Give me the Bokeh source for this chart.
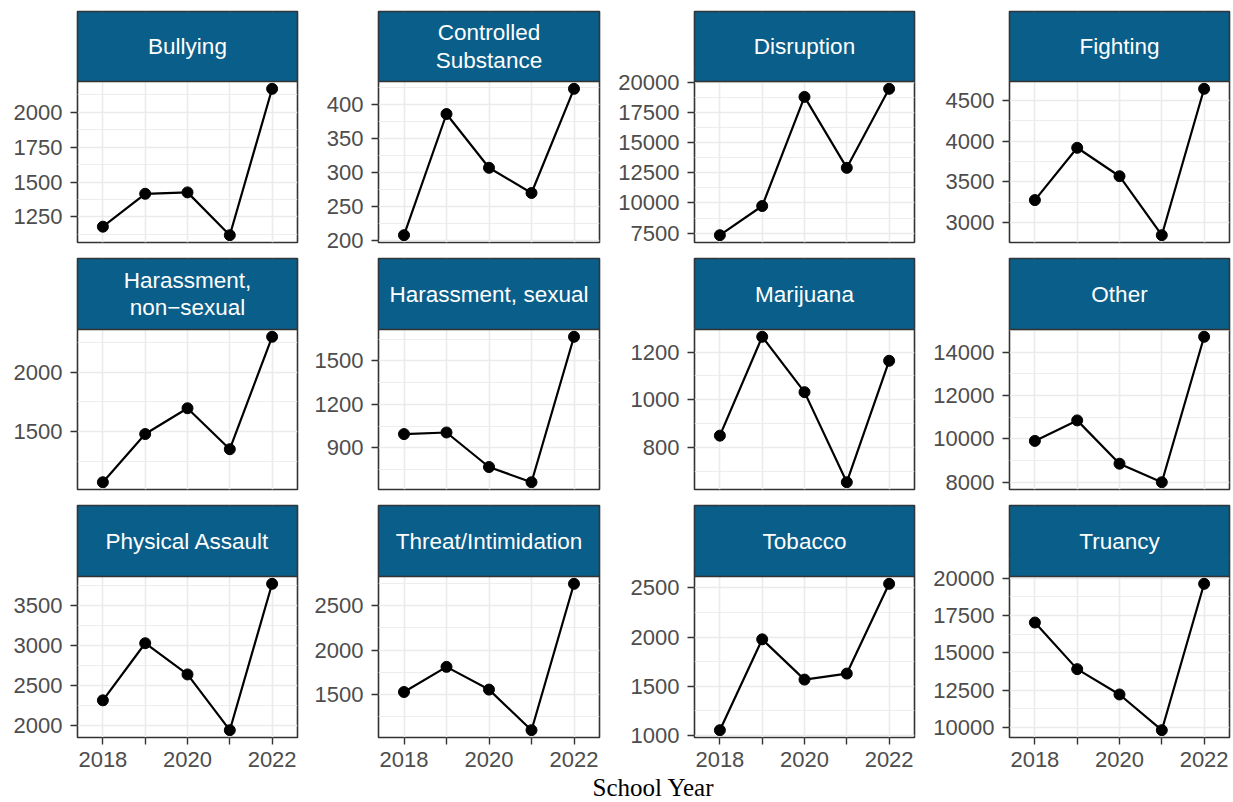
from bokeh.plotting import figure
from bokeh.layouts import column, row
from bokeh.models import Range1d, FixedTicker
from bokeh.core.properties import value
from bokeh.embed import file_html
from bokeh.resources import INLINE

# School years on the x axis; odd years carry a tick but no label
years = [2018, 2019, 2020, 2021, 2022]
x_tick_labels = ["2018", "", "2020", "", "2022"]

# Incident counts per category, one value per school year
bullying = [1180, 1416, 1426, 1119, 2169]
controlled_substance = [208, 386, 307, 270, 423]
disruption = [7335, 9752, 18787, 12912, 19455]
fighting = [3277, 3919, 3570, 2846, 4643]
harassment_non_sexual = [1072, 1478, 1695, 1350, 2297]
harassment_sexual = [995, 1006, 768, 663, 1666]
marijuana = [849, 1265, 1032, 653, 1164]
other = [9908, 10856, 8856, 8000, 14718]
physical_assault = [2312, 3029, 2637, 1937, 3775]
threat_intimidation = [1529, 1812, 1556, 1099, 2747]
tobacco = [1054, 1977, 1568, 1629, 2541]
truancy = [17032, 13910, 12212, 9820, 19626]

# Y-axis breaks for each facet (free y scales)
bullying_breaks = [1250, 1500, 1750, 2000]
controlled_substance_breaks = [200, 250, 300, 350, 400]
disruption_breaks = [7500, 10000, 12500, 15000, 17500, 20000]
fighting_breaks = [3000, 3500, 4000, 4500]
harassment_non_sexual_breaks = [1500, 2000]
harassment_sexual_breaks = [900, 1200, 1500]
marijuana_breaks = [800, 1000, 1200]
other_breaks = [8000, 10000, 12000, 14000]
physical_assault_breaks = [2000, 2500, 3000, 3500]
threat_intimidation_breaks = [1500, 2000, 2500]
tobacco_breaks = [1000, 1500, 2000, 2500]
truancy_breaks = [10000, 12500, 15000, 17500, 20000]

categories = [
    "Bullying", "Controlled\nSubstance", "Disruption", "Fighting",
    "Harassment,\nnon\u2212sexual", "Harassment, sexual", "Marijuana", "Other",
    "Physical Assault", "Threat/Intimidation", "Tobacco", "Truancy",
]
series = [
    bullying, controlled_substance, disruption, fighting,
    harassment_non_sexual, harassment_sexual, marijuana, other,
    physical_assault, threat_intimidation, tobacco, truancy,
]
breaks = [
    bullying_breaks, controlled_substance_breaks, disruption_breaks, fighting_breaks,
    harassment_non_sexual_breaks, harassment_sexual_breaks, marijuana_breaks, other_breaks,
    physical_assault_breaks, threat_intimidation_breaks, tobacco_breaks, truancy_breaks,
]

# ---- styling / geometry ----
FONT = "Liberation Sans"
STRIP_FILL = "#0A5E8A"
BORDER = "#333333"
GRID = "#EBEBEB"
TICK_TEXT = "#4D4D4D"
TICK_SIZE = "22px"
STRIP_SIZE = "22.5px"

col_left = [77, 73, 79, 84]
col_frame = [220, 221, 220, 220]
col_right = [8, 16, 11, 4]
row_top = [11, 4, 4]
strip_h = [70, 71, 71]
panel_h = [161, 160, 161]
row_bottom = [12, 12, 34]

x_lo, x_hi = years[0] - 0.6, years[-1] + 0.6


def make_panel(label, vals, brk, c, r, show_x):
    lo, hi = min(vals), max(vals)
    pad = (hi - lo) * 0.05
    y0, y1 = lo - pad, hi + pad
    per_px = (y1 - y0) / panel_h[r]
    y_top = y1 + strip_h[r] * per_px  # room for the facet strip on top

    p = figure(
        frame_width=col_frame[c], frame_height=panel_h[r] + strip_h[r],
        min_border_left=col_left[c], min_border_right=col_right[c],
        min_border_top=row_top[r], min_border_bottom=row_bottom[r],
        x_range=Range1d(x_lo, x_hi), y_range=Range1d(y0, y_top),
        x_axis_location="below" if show_x else None,
        toolbar_location=None, output_backend="svg",
    )
    step = brk[1] - brk[0]
    minors = [b - step / 2 for b in brk] + [brk[-1] + step / 2]

    p.yaxis.ticker = FixedTicker(ticks=brk, minor_ticks=minors)
    p.yaxis.major_label_overrides = {b: str(b) for b in brk}
    p.xgrid.ticker = FixedTicker(ticks=years)
    p.xgrid.grid_line_color = GRID
    p.xgrid.grid_line_width = 1.6
    p.ygrid.grid_line_color = GRID
    p.ygrid.grid_line_width = 1.6
    p.ygrid.minor_grid_line_color = GRID
    p.ygrid.minor_grid_line_width = 0.9

    axes = list(p.yaxis) + (list(p.xaxis) if show_x else [])
    for ax in axes:
        ax.axis_line_color = None
        ax.major_tick_line_color = BORDER
        ax.major_tick_line_width = 1.4
        ax.major_tick_out = 7
        ax.major_tick_in = 0
        ax.minor_tick_line_color = None
        ax.major_label_text_font = FONT
        ax.major_label_text_font_size = TICK_SIZE
        ax.major_label_text_color = TICK_TEXT
        ax.major_label_standoff = 8
    if show_x:
        p.xaxis.ticker = FixedTicker(ticks=years)
        p.xaxis.major_label_overrides = dict(zip(years, x_tick_labels))
        p.xaxis.major_label_standoff = 7

    p.outline_line_color = BORDER
    p.outline_line_width = 1.6
    p.background_fill_color = "white"

    p.line(years, vals, line_color="black", line_width=2.2)
    p.scatter(years, vals, size=11, fill_color="black", line_color="black")

    # facet strip
    p.quad(left=[x_lo], right=[x_hi], bottom=[y1], top=[y_top],
           fill_color=STRIP_FILL, line_color=BORDER, line_width=1.6)
    p.text(
        x=[(x_lo + x_hi) / 2], y=[(y1 + y_top) / 2], text=[label],
        text_align="center", text_baseline="middle",
        text_color="white", text_font=value(FONT),
        text_font_size=STRIP_SIZE, text_line_height=1.1,
    )
    return p


rows = []
for r in range(3):
    cells = []
    for c in range(4):
        i = r * 4 + c
        cells.append(make_panel(categories[i], series[i], breaks[i], c, r, show_x=(r == 2)))
    rows.append(row(*cells, spacing=0))

# Shared x-axis title centred under the panel grid
footer = figure(
    frame_width=1160, frame_height=1,
    min_border_left=73, min_border_right=0, min_border_top=0, min_border_bottom=0,
    x_range=Range1d(0, 1), y_range=Range1d(0, 1),
    x_axis_location=None, y_axis_location=None,
    toolbar_location=None, output_backend="svg",
    title="School Year", title_location="above",
)
footer.grid.visible = False
footer.outline_line_color = None
footer.title.align = "center"
footer.title.text_font = "Liberation Serif"
footer.title.text_font_style = "normal"
footer.title.text_font_size = "25px"
footer.title.text_color = "black"
footer.title.standoff = 0
footer.title.offset = 0

layout = column(*rows, footer, spacing=0)
open("out.html", "w").write(file_html(layout, INLINE))
